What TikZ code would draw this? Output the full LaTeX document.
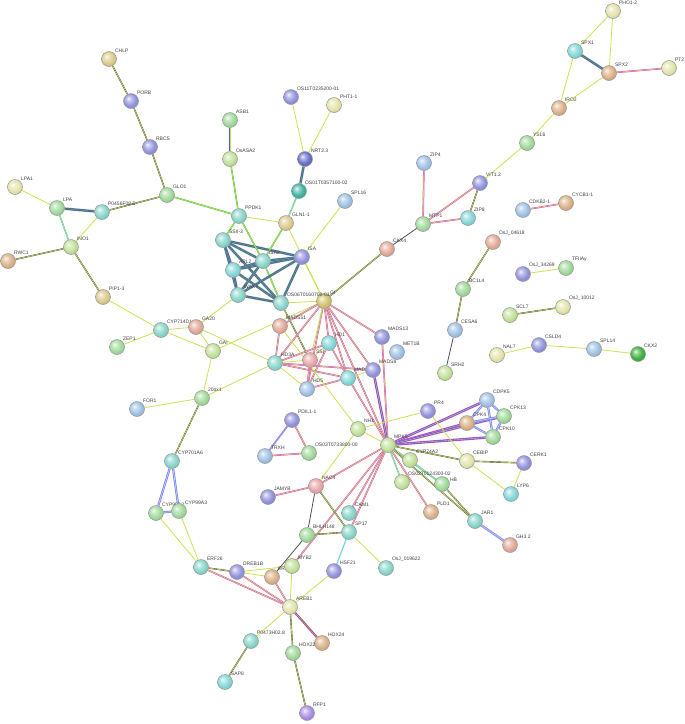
\documentclass[tikz,border=0pt]{standalone}
\usepackage{fontspec}
\setmainfont{Liberation Sans}
\usetikzlibrary{backgrounds}
\makeatletter
\pgfdeclareradialshading[tikz@ball]{softball}{\pgfqpoint{-9bp}{9bp}}{%
 color(0bp)=(tikz@ball!10!white);
 color(8bp)=(tikz@ball!55!white);
 color(20bp)=(tikz@ball);
 color(32bp)=(tikz@ball!88!black);
 color(50bp)=(tikz@ball!70!black)}
\makeatother
\definecolor{nyel}{HTML}{E4E4AC}
\definecolor{ntan}{HTML}{DCCB8E}
\definecolor{nolv}{HTML}{D2C46C}
\definecolor{npur}{HTML}{9494DE}
\definecolor{ngrn}{HTML}{A2DA9C}
\definecolor{nteal}{HTML}{8AD6CA}
\definecolor{nblu}{HTML}{A2C2E6}
\definecolor{nsal}{HTML}{E2AA98}
\definecolor{norg}{HTML}{DCB288}
\definecolor{nlim}{HTML}{C2E29A}
\definecolor{ndkb}{HTML}{6870CA}
\definecolor{ndkt}{HTML}{40B4A4}
\definecolor{ndkg}{HTML}{40B040}
\definecolor{nvio}{HTML}{A890E2}
\definecolor{npnk}{HTML}{EAA8A8}
\definecolor{ncyn}{HTML}{86D8DA}
\definecolor{tmc}{RGB}{204,226,80}
\definecolor{kc}{RGB}{80,80,80}
\definecolor{exc}{RGB}{222,70,220}
\definecolor{dbc}{RGB}{80,200,232}
\definecolor{coc}{RGB}{70,90,232}
\definecolor{gnc}{RGB}{70,196,80}
\newcommand\bn[6][45]{\node[bnode, ball color=#5, shading=softball, label={[blab]#1:#6}] (#2) at (#3,#4) {};}
\begin{document}
\begin{tikzpicture}[x=1pt,y=-1pt,
  bnode/.style={circle, minimum size=15pt, inner sep=0pt, draw=black!40, line width=0.5pt},
  blab/.style={font=\fontsize{5}{6}\selectfont, text=black!75, inner sep=0.4pt},
  eY/.style={draw=tmc, line width=0.8pt},
  eK/.style={draw=kc, line width=1.4pt, postaction={draw=tmc, line width=0.6pt}},
  eKK/.style={draw=kc, line width=0.8pt},
  eP/.style={draw=exc, line width=1.6pt, postaction={draw=tmc, line width=0.6pt}},
  eC/.style={draw=dbc, line width=1.5pt, postaction={draw=tmc, line width=0.6pt}},
  eCC/.style={draw=dbc!80, line width=1.2pt},
  eG/.style={draw=gnc, line width=1.5pt, postaction={draw=tmc, line width=0.6pt}},
  eB/.style={draw=coc!75, line width=2.2pt, postaction={draw=coc!35, line width=0.8pt}},
  eM/.style={draw=coc!80, line width=2.6pt, postaction={draw=kc, line width=1.3pt}, postaction={draw=gnc, line width=0.5pt}},
  eBP/.style={draw=exc, line width=2.6pt, postaction={draw=coc, line width=1.4pt}, postaction={draw=tmc, line width=0.4pt}},
  ePC/.style={draw=exc, line width=1.6pt, postaction={draw=dbc, line width=0.7pt}},
  ePK/.style={draw=exc, line width=2.2pt, postaction={draw=kc, line width=1.1pt}, postaction={draw=tmc, line width=0.4pt}}
]
\useasboundingbox (0,0) rectangle (685,724);
% nodes
\bn{CHLP}{109}{59}{ntan}{CHLP}
\bn{PORB}{131}{101}{npur}{PORB}
\bn{RBCS}{150}{147}{npur}{RBCS}
\bn{GLO1}{167}{195}{ngrn}{GLO1}
\bn{LPA1}{15}{187}{nyel}{LPA1}
\bn{LPA}{57}{208}{ngrn}{LPA}
\bn{P0456}{102}{212}{nteal}{P0456F08.5}
\bn{INO1}{71}{247}{nlim}{INO1}
\bn{RWC1}{8}{261}{norg}{RWC1}
\bn{PIP13}{103}{297}{ntan}{PIP1-3}
\bn{CYP714}{161}{330}{nteal}{CYP714D1}
\bn{GA20}{196}{327}{nsal}{GA20}
\bn{ZEP1}{117}{347}{ngrn}{ZEP1}
\bn{GAI}{213}{351}{nlim}{GAI}
\bn{ox20}{202}{398}{ngrn}{20ox1}
\bn{FOR1}{137}{409}{nblu}{FOR1}
\bn{CYP701}{172}{461}{nteal}{CYP701A6}
\bn{CYP99A2}{156}{513}{ngrn}{CYP99A2}
\bn{CYP99A3}{179}{511}{ngrn}{CYP99A3}
\bn{ERF26}{201}{567}{nteal}{ERF26}
\bn{DREB1B}{237}{572}{npur}{DREB1B}
\bn{ERF27}{272}{577}{norg}{ERF27}
\bn{MYB2}{292}{566}{nlim}{MYB2}
\bn{BHLH}{307}{535}{ngrn}{BHLH148}
\bn{HSF21}{334}{571}{npur}{HSF21}
\bn{SP17}{349}{532}{nteal}{SP17}
\bn{CAM1}{349}{513}{nteal}{CAM1}
\bn{OsJa}{386}{568}{nteal}{OsJ\_019622}
\bn{NAC4}{316}{486}{npnk}{NAC4}
\bn{JAMYB}{268}{497}{npur}{JAMYB}
\bn{AREB1}{290}{607}{nyel}{AREB1}
\bn{P0473}{251}{641}{nteal}{P0473H02.8}
\bn{SAP8}{225}{682}{ncyn}{SAP8}
\bn{HOX24}{322}{643}{norg}{HOX24}
\bn{HOX22}{293}{653}{ngrn}{HOX22}
\bn{RFP1}{307}{713}{nvio}{RFP1}
\bn{PLD1}{431}{512}{norg}{PLD1}
\bn{LYP6}{511}{494}{ncyn}{LYP6}
\bn{JAR1}{475}{521}{nteal}{JAR1}
\bn{GH32}{510}{545}{nsal}{GH3.2}
\bn{PR4}{428}{411}{npur}{PR4}
\bn{CDPK5}{487}{400}{nblu}{CDPK5}
\bn{CPK4}{467}{423}{norg}{CPK4}
\bn{CPK13}{504}{416}{ngrn}{CPK13}
\bn{CPK10}{493}{437}{ngrn}{CPK10}
\bn{MPK5}{388}{445}{nlim}{MPK5}
\bn{CYP74A2}{410}{460}{nlim}{CYP74A2}
\bn{CEBIP}{467}{461}{nyel}{CEBIP}
\bn{CERK1}{524}{463}{npur}{CERK1}
\bn{OS02T}{402}{482}{nlim}{OS02T0124300-02}
\bn[15]{HB}{442}{484}{ngrn}{HB}
\bn{HD1}{329}{343}{ncyn}{HD1}
\bn{SSI}{310}{360}{npnk}{SSI}
\bn{HD3A}{275}{363}{nteal}{HD3A}
\bn{MADS51}{280}{326}{nsal}{MADS51}
\bn{HD5}{307}{389}{nblu}{HD5}
\bn{MADS15}{348}{378}{ncyn}{MADS15}
\bn{MADS8}{373}{370}{npur}{MADS8}
\bn{MADS13}{382}{337}{npur}{MADS13}
\bn{MET1B}{397}{352}{nblu}{MET1B}
\bn{GI}{324}{301}{nolv}{GI}
\bn{NH1}{358}{429}{nlim}{NH1}
\bn{PDIL}{292}{420}{npur}{PDIL1-1}
\bn{TRXH}{265}{456}{nblu}{TRXH}
\bn{OS03T}{309}{453}{ngrn}{OS03T0733800-00}
\bn{SRH2}{445}{373}{nlim}{SRH2}
\bn{CESA6}{455}{330}{nblu}{CESA6}
\bn{BC1L4}{463}{289}{ngrn}{BC1L4}
\bn{OsJb}{493}{242}{nsal}{OsJ\_04618}
\bn{SSII3}{223}{240}{nteal}{SSII-3}
\bn{PPDK1}{239}{216}{nteal}{PPDK1}
\bn{GLN1}{286}{223}{ntan}{GLN1-1}
\bn{ISA}{302}{257}{npur}{ISA}
\bn{ISA2}{263}{261}{nteal}{ISA2}
\bn{APL2}{233}{270}{ncyn}{APL2}
\bn{WAXY}{238}{295}{nteal}{WAXY}
\bn{OS06T}{281}{303}{nteal}{OS06T0160700-01}
\bn{ASB1}{230}{120}{ngrn}{ASB1}
\bn{OsASA2}{230}{159}{nlim}{OsASA2}
\bn{OS11T}{291}{97}{npur}{OS11T0235200-01}
\bn{PHT1}{334}{105}{nyel}{PHT1-1}
\bn{NRT23}{305}{159}{ndkb}{NRT2.3}
\bn{OS01T}{299}{191}{ndkt}{OS01T0357100-02}
\bn{SPL16}{345}{201}{nblu}{SPL16}
\bn{ZIP4}{424}{163}{nblu}{ZIP4}
\bn{MTP1}{423}{224}{ngrn}{MTP1}
\bn{ZIP8}{468}{218}{ncyn}{ZIP8}
\bn{VIT12}{480}{183}{npur}{VIT1.2}
\bn{YSL6}{527}{143}{ngrn}{YSL6}
\bn{IRO2}{559}{108}{norg}{IRO2}
\bn{SPX1}{575}{51}{ncyn}{SPX1}
\bn{SPX2}{609}{73}{norg}{SPX2}
\bn{PHO12}{613}{11}{nyel}{PHO1-2}
\bn{PT2}{669}{68}{nyel}{PT2}
\bn{CDKB2}{523}{210}{nblu}{CDKB2-1}
\bn{CYCB1}{566}{203}{norg}{CYCB1-1}
\bn{CKX4}{387}{249}{nsal}{CKX4}
\bn{OsJc}{523}{274}{npur}{OsJ\_34269}
\bn{TFIIA}{566}{268}{ngrn}{TFIIAy}
\bn{SCL7}{510}{315}{nlim}{SCL7}
\bn{OsJd}{563}{307}{nyel}{OsJ\_10012}
\bn{NAL7}{497}{355}{nyel}{NAL7}
\bn{CSLD4}{539}{345}{npur}{CSLD4}
\bn{SPL14}{594}{349}{nblu}{SPL14}
\bn{CKX2}{638}{354}{ndkg}{CKX2}
\begin{scope}[on background layer]
\fill[white] (0,0) rectangle (685,724);
% top-left
\draw[eK] (CHLP) -- (PORB);
\draw[eK] (PORB) -- (RBCS);
\draw[eK] (RBCS) -- (GLO1);
\draw[eK] (GLO1) -- (P0456);
\draw[eG] (GLO1) -- (PPDK1);
\draw[eY] (LPA1) -- (LPA);
\draw[eM] (LPA) -- (P0456);
\draw[eC] (LPA) -- (INO1);
\draw[eY] (P0456) -- (INO1);
\draw[eK] (INO1) -- (RWC1);
\draw[eK] (INO1) -- (PIP13);
\draw[eY] (PIP13) -- (CYP714);
\draw[eY] (CYP714) -- (ZEP1);
\draw[eY] (CYP714) -- (GA20);
\draw[eY] (CYP714) -- (GAI);
\draw[eY] (GA20) -- (GAI);
\draw[eY] (GA20) -- (WAXY);
\draw[eY] (GAI) -- (GI);
\draw[eY] (GA20) -- (HD3A);
\draw[eY] (GAI) -- (ox20);
\draw[eY] (ox20) -- (HD3A);
\draw[eY] (ox20) -- (FOR1);
\draw[eK] (ox20) -- (CYP701);
\draw[eB] (CYP701) -- (CYP99A2);
\draw[eB] (CYP701) -- (CYP99A3);
\draw[eB] (CYP99A2) -- (CYP99A3);
\draw[eY] (CYP99A2) -- (ERF26);
\draw[eY] (CYP99A3) -- (ERF26);
% bottom
\draw[eK] (ERF26) -- (DREB1B);
\draw[eP] (ERF26) -- (AREB1);
\draw[eY] (DREB1B) -- (ERF27);
\draw[eP] (DREB1B) -- (AREB1);
\draw[eY] (DREB1B) -- (MYB2);
\draw[eKK] (ERF27) -- (BHLH);
\draw[eP] (ERF27) -- (AREB1);
\draw[eY] (MYB2) -- (AREB1);
\draw[eP] (MYB2) -- (MPK5);
\draw[eK] (BHLH) -- (SP17);
\draw[eKK] (BHLH) -- (NAC4);
\draw[eP] (NAC4) -- (JAMYB);
\draw[eK] (NAC4) -- (SP17);
\draw[eP] (NAC4) -- (MPK5);
\draw[eP] (CAM1) -- (MPK5);
\draw[eP] (SP17) -- (MPK5);
\draw[eCC] (SP17) -- (HSF21);
\draw[eY] (SP17) -- (OsJa);
\draw[eY] (HSF21) -- (AREB1);
\draw[eY] (AREB1) -- (P0473);
\draw[eK] (AREB1) -- (HOX22);
\draw[ePK] (AREB1) -- (HOX24);
\draw[eK] (HOX22) -- (RFP1);
\draw[eK] (P0473) -- (SAP8);
% starch cluster
\draw[eM] (SSII3) -- (ISA2);
\draw[eM] (SSII3) -- (ISA);
\draw[eM] (SSII3) -- (APL2);
\draw[eM] (SSII3) -- (WAXY);
\draw[eM] (SSII3) -- (OS06T);
\draw[eM] (ISA2) -- (ISA);
\draw[eM] (ISA2) -- (APL2);
\draw[eM] (ISA2) -- (WAXY);
\draw[eG] (ISA2) -- (OS06T);
\draw[eM] (APL2) -- (WAXY);
\draw[eM] (APL2) -- (ISA);
\draw[eM] (APL2) -- (OS06T);
\draw[eM] (WAXY) -- (ISA);
\draw[eM] (WAXY) -- (OS06T);
\draw[eM] (ISA) -- (OS06T);
\draw[eY] (PPDK1) -- (GLN1);
\draw[eG] (PPDK1) -- (SSII3);
\draw[eG] (PPDK1) -- (ISA2);
\draw[eG] (PPDK1) -- (OsASA2);
\draw[eBP] (ASB1) -- (OsASA2);
\draw[eC] (GLN1) -- (OS01T);
\draw[eM] (OS01T) -- (NRT23);
\draw[eY] (NRT23) -- (OS11T);
\draw[eY] (NRT23) -- (PHT1);
\draw[eG] (GLN1) -- (ISA2);
\draw[eY] (GLN1) -- (GI);
\draw[eY] (SPL16) -- (ISA);
\draw[eY] (ISA) -- (GI);
\draw[eY] (OS06T) -- (GI);
\draw[eK] (OS06T) -- (SSI);
\draw[eK] (GI) -- (CKX4);
\draw[eKK] (CKX4) -- (MTP1);
% flowering cluster
\draw[eP] (GI) -- (MADS51);
\draw[eP] (GI) -- (HD1);
\draw[eP] (GI) -- (HD3A);
\draw[eP] (GI) -- (HD5);
\draw[eP] (GI) -- (MADS15);
\draw[eP] (GI) -- (MADS13);
\draw[eP] (GI) -- (MADS8);
\draw[eP] (GI) -- (MPK5);
\draw[eY] (GI) -- (SSI);
\draw[eP] (HD3A) -- (MADS51);
\draw[eP] (HD3A) -- (HD1);
\draw[eY] (HD3A) -- (HD5);
\draw[eP] (HD3A) -- (MADS15);
\draw[eP] (HD3A) -- (MADS8);
\draw[eY] (HD3A) -- (SSI);
\draw[eP] (HD1) -- (HD5);
\draw[eP] (HD1) -- (MADS15);
\draw[eY] (HD1) -- (SSI);
\draw[eP] (HD5) -- (MADS15);
\draw[eP] (HD5) -- (SSI);
\draw[eY] (MADS15) -- (MADS8);
\draw[eP] (MADS15) -- (MPK5);
\draw[eP] (MADS13) -- (MPK5);
\draw[eBP] (MADS8) -- (MPK5);
\draw[eY] (MADS51) -- (NH1);
% MPK5 cluster
\draw[eY] (NH1) -- (MPK5);
\draw[eY] (NH1) -- (PR4);
\draw[eY] (NH1) -- (NAC4);
\draw[eBP] (MPK5) -- (CDPK5);
\draw[eBP] (MPK5) -- (CPK4);
\draw[eBP] (MPK5) -- (CPK13);
\draw[eBP] (MPK5) -- (CPK10);
\draw[eB] (CDPK5) -- (CPK4);
\draw[eB] (CDPK5) -- (CPK13);
\draw[eB] (CDPK5) -- (CPK10);
\draw[eB] (CPK4) -- (CPK13);
\draw[eB] (CPK4) -- (CPK10);
\draw[eB] (CPK13) -- (CPK10);
\draw[eY] (MPK5) -- (CYP74A2);
\draw[eK] (MPK5) -- (CEBIP);
\draw[eC] (MPK5) -- (OS02T);
\draw[eC] (MPK5) -- (HB);
\draw[eP] (MPK5) -- (PLD1);
\draw[eK] (MPK5) -- (JAR1);
\draw[eY] (PR4) -- (CEBIP);
\draw[eK] (CEBIP) -- (CERK1);
\draw[eY] (CEBIP) -- (LYP6);
\draw[eY] (CERK1) -- (LYP6);
\draw[eC] (CYP74A2) -- (HB);
\draw[eK] (HB) -- (JAR1);
\draw[eB] (JAR1) -- (GH32);
% right side
\draw[eP] (MTP1) -- (ZIP4);
\draw[eP] (MTP1) -- (VIT12);
\draw[eP] (MTP1) -- (ZIP8);
\draw[eK] (VIT12) -- (ZIP8);
\draw[eY] (VIT12) -- (YSL6);
\draw[eY] (YSL6) -- (IRO2);
\draw[eY] (IRO2) -- (SPX1);
\draw[eY] (IRO2) -- (SPX2);
\draw[eM] (SPX1) -- (SPX2);
\draw[eY] (SPX1) -- (PHO12);
\draw[eY] (SPX2) -- (PHO12);
\draw[eP] (SPX2) -- (PT2);
\draw[eP] (CDKB2) -- (CYCB1);
\draw[eK] (OsJb) -- (BC1L4);
\draw[eK] (BC1L4) -- (CESA6);
\draw[eKK] (CESA6) -- (SRH2);
\draw[eY] (OsJc) -- (TFIIA);
\draw[eK] (SCL7) -- (OsJd);
\draw[eY] (NAL7) -- (CSLD4);
\draw[eY] (CSLD4) -- (SPL14);
\draw[eY] (SPL14) -- (CKX2);
\draw[ePC] (PDIL) -- (TRXH);
\draw[eP] (PDIL) -- (OS03T);
\draw[eP] (TRXH) -- (OS03T);
\end{scope}
\end{tikzpicture}
\end{document}
